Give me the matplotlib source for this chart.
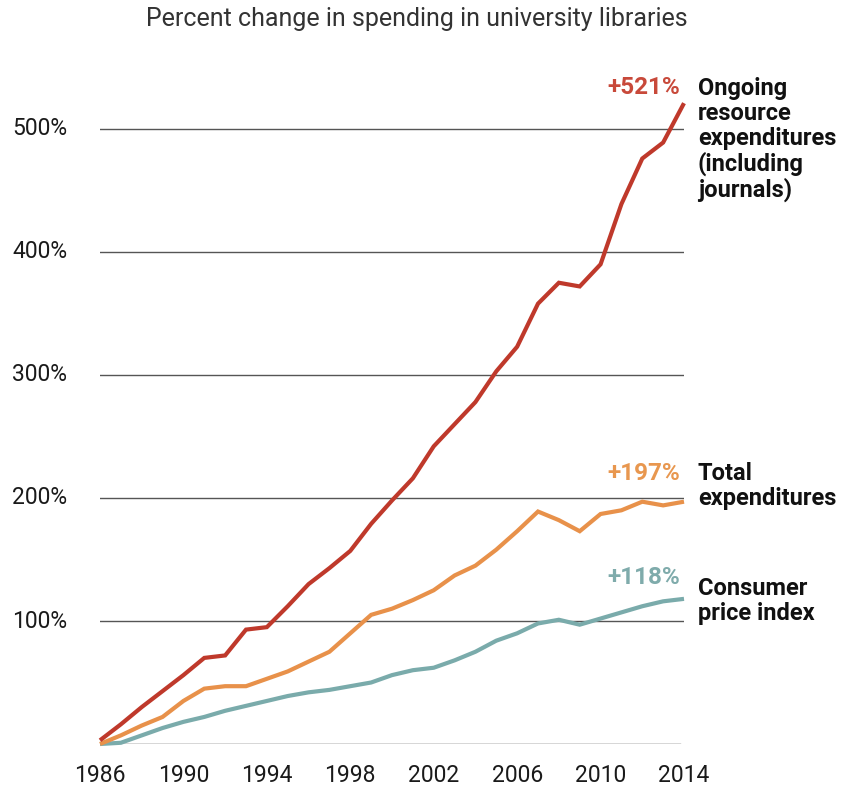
import matplotlib
matplotlib.use("Agg")
import matplotlib.pyplot as plt
import matplotlib.transforms as mtransforms

plt.rcParams['font.family'] = ['Roboto', 'DejaVu Sans']

years = list(range(1986, 2015))
ongoing = [3, 16, 30, 43, 56, 70, 72, 93, 95, 112, 130, 143, 157, 179, 198, 216,
           242, 260, 278, 303, 323, 358, 375, 372, 390, 439, 476, 489, 521]
total = [0, 7, 15, 22, 35, 45, 47, 47, 53, 59, 67, 75, 90, 105, 110, 117,
         125, 137, 145, 158, 173, 189, 182, 173, 187, 190, 197, 194, 197]
cpi = [0, 1, 7, 13, 18, 22, 27, 31, 35, 39, 42, 44, 47, 50, 56, 60,
       62, 68, 75, 84, 90, 98, 101, 97, 102, 107, 112, 116, 118]

yticks = [100, 200, 300, 400, 500]
ytick_labels = ['100%', '200%', '300%', '400%', '500%']
xticks = [1986, 1990, 1994, 1998, 2002, 2006, 2010, 2014]

end_labels = ['+521%', '+197%', '+118%']
series_names = ['Ongoing\nresource\nexpenditures\n(including\njournals)',
                'Total\nexpenditures', 'Consumer\nprice index']

RED = '#bf392b'
ORANGE = '#e8914a'
TEAL = '#7aabab'
RED_T = '#c8493a'
ORANGE_T = '#e8974f'
TEAL_T = '#7fabab'

W, H = 862, 787
fig = plt.figure(figsize=(W / 100, H / 100), dpi=100)
left_px, right_px = 100, 684
bottom_px = 744
ymax = 540
px_per = 1.23
top_px = bottom_px - ymax * px_per
ax = fig.add_axes([left_px / W, (H - bottom_px) / H, (right_px - left_px) / W,
                   (bottom_px - top_px) / H])
ax.set_xlim(1986, 2014)
ax.set_ylim(0, ymax)
ax.axis('off')

for v in yticks:
    ax.axhline(v, color='#555555', lw=1.0, zorder=1)
ax.plot([1986, 2013.8], [0, 0], color='#333333', lw=1.0, zorder=1)

kw = dict(lw=3.0, clip_on=False, solid_capstyle='butt', solid_joinstyle='miter')
ax.plot(years, cpi, color=TEAL, zorder=3, **kw)
ax.plot(years, total, color=ORANGE, zorder=3, **kw)
ax.plot(years, ongoing, color=RED, zorder=4, **kw)

# y tick labels (left aligned at figure x)
tr_y = mtransforms.blended_transform_factory(fig.transFigure, ax.transData)
for v, lab in zip(yticks, ytick_labels):
    ax.text(12 / W, v, lab, transform=tr_y, ha='left', va='center',
            fontsize=16.5, color='#1a1a1a')

# x tick labels
tr_x = mtransforms.blended_transform_factory(ax.transData, fig.transFigure)
for xv in xticks:
    ax.text(xv, (H - 776) / H, str(xv), transform=tr_x, ha='center', va='center',
            fontsize=16.5, color='#1a1a1a')

# title
fig.text(417 / W, (H - 19) / H, 'Percent change in spending in university libraries',
         ha='center', va='center', fontsize=18, color='#333333')

# end labels
tf = fig.transFigure
ax.text(680 / W, (H - 88) / H, end_labels[0], transform=tf, ha='right', va='center',
        fontsize=17.5, fontweight='bold', color=RED_T)
ax.text(680 / W, (H - 473) / H, end_labels[1], transform=tf, ha='right', va='center',
        fontsize=17.5, fontweight='bold', color=ORANGE_T)
ax.text(680 / W, (H - 578) / H, end_labels[2], transform=tf, ha='right', va='center',
        fontsize=17.5, fontweight='bold', color=TEAL_T)

ax.text(698 / W, (H - 77) / H, series_names[0], transform=tf, ha='left', va='top',
        fontsize=17, fontweight='bold', color='#111111', linespacing=1.1)
ax.text(698 / W, (H - 462) / H, series_names[1], transform=tf, ha='left', va='top',
        fontsize=17, fontweight='bold', color='#111111', linespacing=1.1)
ax.text(698 / W, (H - 577) / H, series_names[2], transform=tf, ha='left', va='top',
        fontsize=17, fontweight='bold', color='#111111', linespacing=1.1)

fig.savefig('out.png', dpi=100, facecolor='white')
